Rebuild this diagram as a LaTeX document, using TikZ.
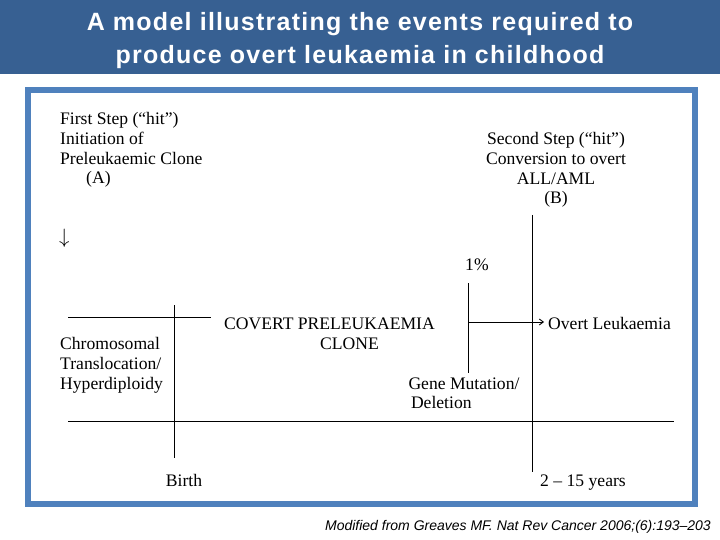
\documentclass[tikz,border=0pt]{standalone}
\usepackage{fontspec}
\setmainfont{Liberation Serif}
\newfontfamily\hdrfont[LetterSpace=5]{Liberation Sans}
\newfontfamily\capfont{Liberation Sans}
\usepackage{xcolor}
\definecolor{hdrblue}{RGB}{55,96,146}
\definecolor{frameblue}{RGB}{79,129,189}
\usepackage{tikz}
\usetikzlibrary{arrows.meta, positioning}

\begin{document}
\begin{tikzpicture}[x=1pt, y=-1pt,
  title/.style={align=center, inner sep=0pt, text=white, font=\hdrfont\bfseries\fontsize{25}{33}\selectfont},
  lbl/.style={inner sep=0pt, align=left, font=\fontsize{17.6}{19.7}\selectfont},
  axis/.style={line width=0.9pt, draw=black},
  flow/.style={-{Straight Barb[length=4pt, width=6pt]}, line width=0.9pt, draw=black},
  frame/.style={draw=frameblue, line width=6pt},
  source/.style={inner sep=0pt, font=\capfont\itshape\fontsize{14}{16}\selectfont}
]
\useasboundingbox (0,0) rectangle (720,540);

% Header
\fill[hdrblue] (0,0) rectangle (720,74);
\node[title, anchor=north] (head) at (360,12.3) {A model illustrating the events required to\\produce overt leukaemia in childhood};
\draw[frame] (28,90) rectangle (694.5,503.5);

% Nodes
\node[lbl, anchor=north west] (first) at (60,112.4) {First Step (“hit”)\\Initiation of\\Preleukaemic Clone\\\hspace*{26pt}(A)};
\node[lbl, anchor=base west, font=\fontsize{22}{24}\selectfont] (down) at (59,243.7) {$\downarrow$};
\node[lbl, align=center, anchor=north] (second) at (556,132.4) {Second Step (“hit”)\\Conversion to overt\\ALL/AML\\(B)};
\node[lbl, anchor=base west] (pct) at (465,270.7) {1\%};
\node[lbl, anchor=north west] (covert) at (224,317.6) {COVERT PRELEUKAEMIA\\\hspace*{96pt}CLONE};
\node[lbl, anchor=base west] (overt) at (548,329.3) {Overt Leukaemia};
\node[lbl, anchor=north west] (chrom) at (60,337.3) {Chromosomal\\Translocation/\\Hyperdiploidy};
\node[lbl, anchor=north west] (gene) at (408.3,377.2) {Gene Mutation/\\\hspace*{2.5pt}Deletion};
\node[lbl, anchor=base] (birth) at (184,486.7) {Birth};
\node[lbl, anchor=base] (years) at (583,486) {2 – 15 years};
\node[source, anchor=base east] (ref) at (711,530) {Modified from Greaves MF. Nat Rev Cancer 2006;(6):193–203};

% Time lines
\coordinate (topL) at (68,317);
\coordinate (topR) at (211,317);
\coordinate (birthT) at (174,305);
\coordinate (birthB) at (174,458);
\coordinate (axisL) at (68,421);
\coordinate (axisR) at (674,421);
\coordinate (hitT) at (532,215);
\coordinate (hitB) at (532,472);
\coordinate (pctT) at (468,283);
\coordinate (pctB) at (468,373);
\coordinate (pctM) at (468,322);

\draw[axis] (topL) -- (topR);
\draw[axis] (birthT) -- (birthB);
\draw[axis] (axisL) -- (axisR);
\draw[axis] (hitT) -- (hitB);
\draw[axis] (pctT) -- (pctB);

% Flows
\draw[flow, shorten >=4pt] (pctM) -- (pctM -| overt.west);

\end{tikzpicture}
\end{document}
